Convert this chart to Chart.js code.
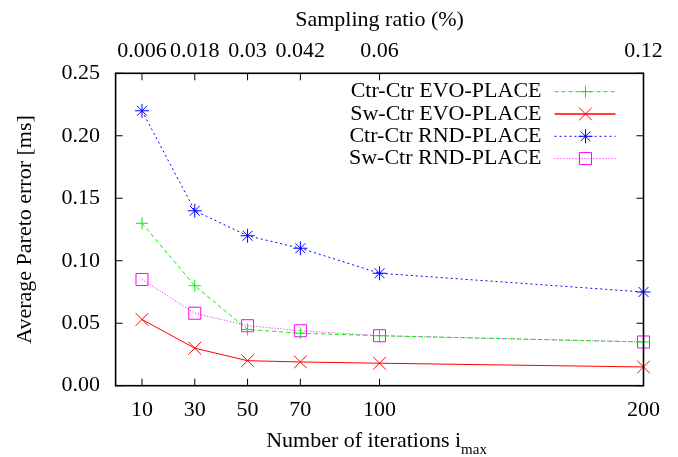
<!DOCTYPE html>
<html>
<head>
<meta charset="utf-8">
<script src="https://cdn.jsdelivr.net/npm/chart.js@4"></script>
<style>
  html, body { margin: 0; padding: 0; background: #fff; }
  #wrap { width: 678px; height: 457px; }
</style>
</head>
<body>
<div id="wrap"><canvas id="chart" width="678" height="457"></canvas></div>
<script>
// values
const iterations = [10, 30, 50, 70, 100, 200];
const samplingRatio = ['0.006', '0.018', '0.03', '0.042', '0.06', '0.12'];
const yTicks = [0, 0.05, 0.10, 0.15, 0.20, 0.25];

const seriesLabels = ['Ctr-Ctr EVO-PLACE', 'Sw-Ctr EVO-PLACE', 'Ctr-Ctr RND-PLACE', 'Sw-Ctr RND-PLACE'];
const ctrCtrEvo = [0.13, 0.08, 0.045, 0.042, 0.04, 0.035];
const swCtrEvo = [0.053, 0.03, 0.02, 0.019, 0.018, 0.015];
const ctrCtrRnd = [0.22, 0.14, 0.12, 0.11, 0.09, 0.075];
const swCtrRnd = [0.085, 0.058, 0.048, 0.044, 0.04, 0.035];

const serif = "'Liberation Serif', 'Times New Roman', serif";
const axisFont = { family: serif, size: 22 };
Chart.defaults.font.family = serif;
Chart.defaults.font.size = 22;
Chart.defaults.color = '#000';

const toPoints = vals => vals.map((v, i) => ({ x: iterations[i], y: v }));

function series(label, vals, color, dash, style, radius) {
    return {
        label: label,
        data: toPoints(vals),
        borderColor: color,
        backgroundColor: 'rgba(0,0,0,0)',
        borderWidth: 1,
        borderDash: dash,
        pointStyle: style,
        pointRadius: radius,
        pointBorderWidth: 1,
        pointBorderColor: color,
        pointBackgroundColor: 'rgba(0,0,0,0)',
        tension: 0,
        clip: false
    };
}

// gnuplot style box + inward tics
const framePlugin = {
    id: 'frame',
    afterDatasetsDraw(chart) {
        const { ctx, chartArea: a, scales } = chart;
        ctx.save();
        ctx.strokeStyle = '#000';
        ctx.lineWidth = 1;
        ctx.beginPath();
        iterations.forEach(v => {
            const px = scales.x.getPixelForValue(v);
            ctx.moveTo(px, a.bottom); ctx.lineTo(px, a.bottom - 7);
            const px2 = scales.x2.getPixelForValue(v);
            ctx.moveTo(px2, a.top); ctx.lineTo(px2, a.top + 7);
        });
        yTicks.forEach(v => {
            const py = scales.y.getPixelForValue(v);
            ctx.moveTo(a.left, py); ctx.lineTo(a.left + 7, py);
            ctx.moveTo(a.right, py); ctx.lineTo(a.right - 7, py);
        });
        ctx.stroke();
        ctx.lineWidth = 1.6;
        ctx.strokeRect(a.left, a.top, a.right - a.left, a.bottom - a.top);
        ctx.restore();
    }
};

// key in the top right corner: text, then line sample with marker
const keyPlugin = {
    id: 'key',
    afterDraw(chart) {
        const { ctx, chartArea: a } = chart;
        const textRight = a.right - 102;
        ctx.save();
        chart.data.datasets.forEach((ds, i) => {
            const y = a.top + 18.4 + i * 22.3;
            ctx.font = '22px ' + serif;
            ctx.fillStyle = '#000';
            ctx.textAlign = 'right';
            ctx.textBaseline = 'middle';
            ctx.fillText(ds.label, textRight, y);
            ctx.strokeStyle = ds.borderColor;
            ctx.lineWidth = i === 1 ? 1.6 : 1;
            ctx.setLineDash(ds.borderDash);
            ctx.beginPath();
            ctx.moveTo(textRight + 13, y);
            ctx.lineTo(textRight + 74, y);
            ctx.stroke();
            ctx.setLineDash([]);
            ctx.lineWidth = 1;
            ctx.fillStyle = 'rgba(0,0,0,0)';
            Chart.helpers.drawPoint(ctx, { pointStyle: ds.pointStyle, radius: ds.pointRadius, rotation: 0, borderWidth: 1 }, textRight + 44, y);
        });

        // x axis title with subscript
        const main = 'Number of iterations i';
        const sub = 'max';
        ctx.font = '22px ' + serif;
        const w1 = ctx.measureText(main).width;
        ctx.font = '15px ' + serif;
        const w2 = ctx.measureText(sub).width;
        const cx = (a.left + a.right) / 2 - 3;
        const x0 = cx - (w1 + w2) / 2;
        ctx.fillStyle = '#000';
        ctx.textAlign = 'left';
        ctx.textBaseline = 'alphabetic';
        ctx.font = '22px ' + serif;
        ctx.fillText(main, x0, 447);
        ctx.font = '15px ' + serif;
        ctx.fillText(sub, x0 + w1, 454);
        ctx.restore();
    }
};

const noGrid = { display: false, drawTicks: false, drawOnChartArea: false };

new Chart(document.getElementById('chart'), {
    type: 'line',
    data: {
        datasets: [
            series(seriesLabels[0], ctrCtrEvo, '#00f000', [4, 3], 'cross', 6),
            series(seriesLabels[1], swCtrEvo, '#ff0000', [], 'crossRot', 9),
            series(seriesLabels[2], ctrCtrRnd, '#0000ff', [2, 3], 'star', 7),
            series(seriesLabels[3], swCtrRnd, '#ff00ff', [1, 2], 'rect', 8.5)
        ]
    },
    options: {
        responsive: false,
        animation: false,
        layout: { padding: { left: 0, right: 34.5, top: 0, bottom: 0 } },
        plugins: { legend: { display: false }, tooltip: { enabled: false } },
        scales: {
            x: {
                type: 'linear',
                position: 'bottom',
                min: 0,
                max: 200,
                grid: noGrid,
                border: { display: false },
                afterBuildTicks: s => { s.ticks = iterations.map(v => ({ value: v })); },
                afterFit: s => { s.height = 71.3; },
                ticks: { font: axisFont, color: '#000', autoSkip: false, maxRotation: 0, padding: 11, callback: v => String(v) }
            },
            x2: {
                type: 'linear',
                position: 'top',
                display: true,
                min: 0,
                max: 200,
                grid: noGrid,
                border: { display: false },
                afterBuildTicks: s => { s.ticks = iterations.map(v => ({ value: v })); },
                afterFit: s => { s.height = 73.3; },
                ticks: { font: axisFont, color: '#000', autoSkip: false, maxRotation: 0, padding: 8.4, callback: v => samplingRatio[iterations.indexOf(v)] },
                title: { display: true, text: 'Sampling ratio (%)', font: axisFont, color: '#000', padding: { top: 7, bottom: 0 } }
            },
            y: {
                type: 'linear',
                position: 'left',
                min: 0,
                max: 0.25,
                grid: noGrid,
                border: { display: false },
                afterBuildTicks: s => { s.ticks = yTicks.map(v => ({ value: v })); },
                afterFit: s => { s.width = 115.6; },
                ticks: { font: axisFont, color: '#000', padding: 15.6, callback: v => v.toFixed(2) },
                title: { display: true, text: 'Average Pareto error [ms]', font: axisFont, color: '#000', padding: { top: 12, bottom: 0 } }
            }
        }
    },
    plugins: [framePlugin, keyPlugin]
});
</script>
</body>
</html>
